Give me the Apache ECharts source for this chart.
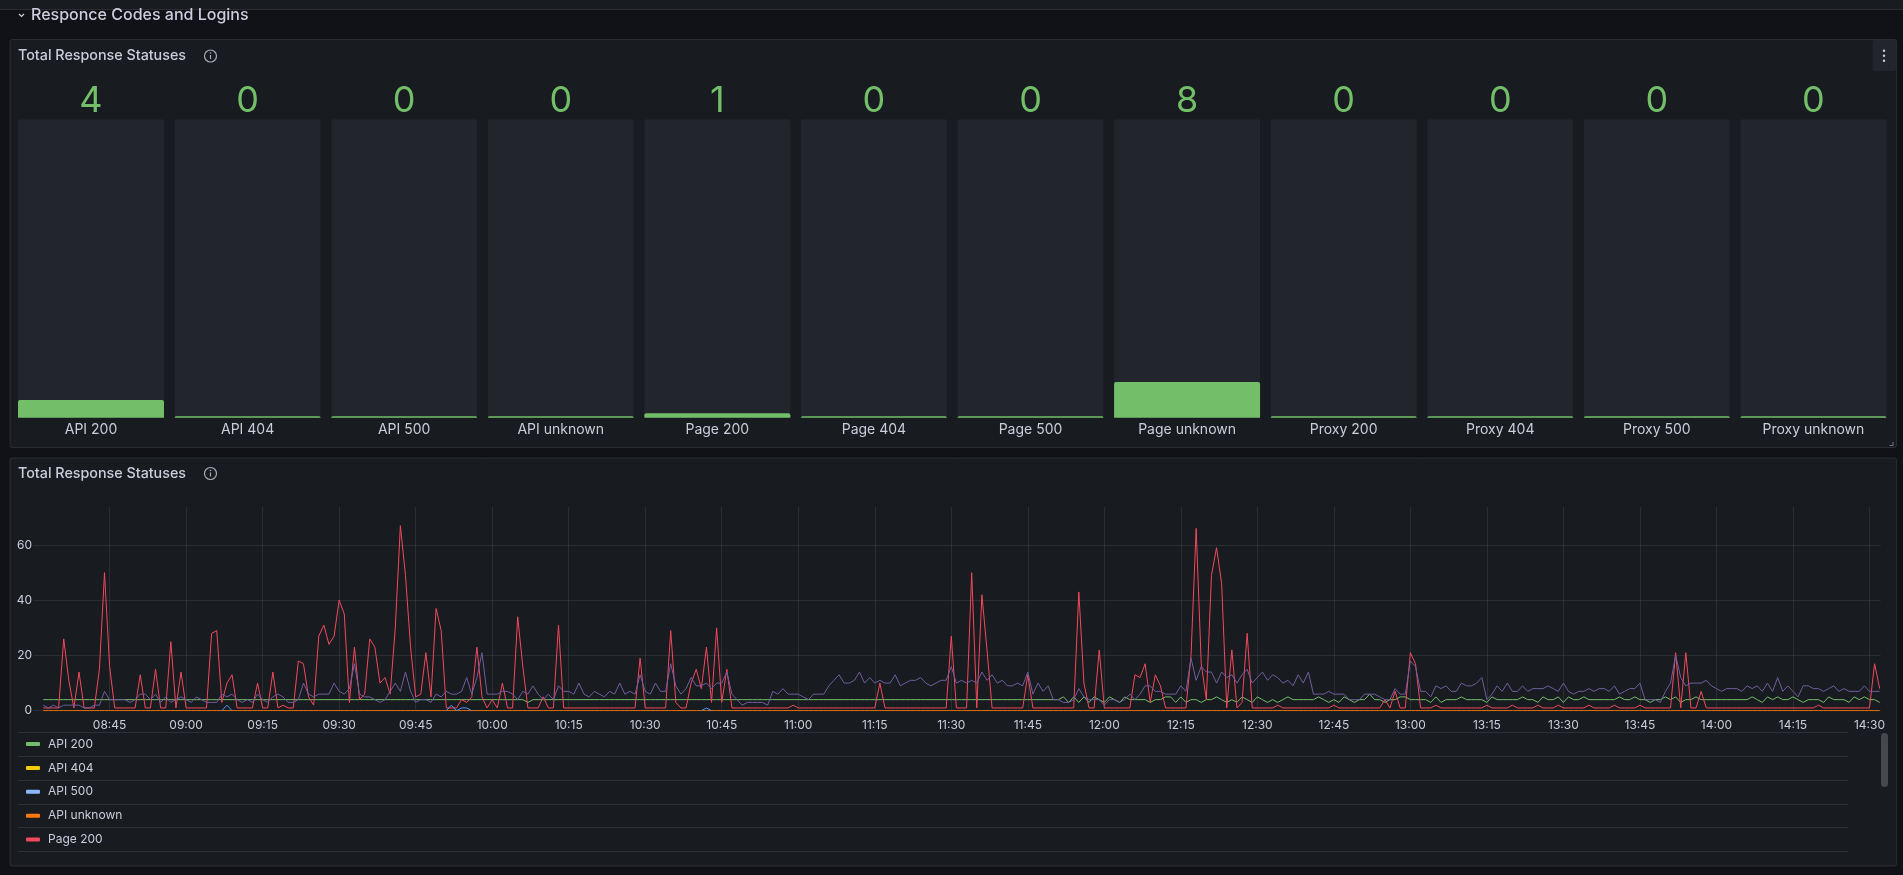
<!DOCTYPE html>
<html>
<head>
<meta charset="utf-8">
<title>Total Response Statuses</title>
<script src="https://cdn.jsdelivr.net/npm/echarts@6.0.0/dist/echarts.min.js"></script>
<style>
html, body { margin: 0; padding: 0; background: #111217; }
#container { width: 1903px; height: 875px; }
</style>
</head>
<body>
<div id="container"></div>
<script>
// stat panel
var statNames = ['API 200', 'API 404', 'API 500', 'API unknown', 'Page 200', 'Page 404',
                 'Page 500', 'Page unknown', 'Proxy 200', 'Proxy 404', 'Proxy 500', 'Proxy unknown'];
var statValues = [4, 0, 0, 0, 1, 0, 0, 8, 0, 0, 0, 0];

// time series panel, one sample per minute from 08:32 to 14:32
var startMinute = 8 * 60 + 32;
var seriesNames = statNames;
var seriesColors = ['#73BF69', '#F2CC0C', '#8AB8FF', '#FF780A', '#F2495C', '#5794F2',
                    '#B877D9', '#705DA0', '#508642', '#CCA300', '#447EBC', '#C15C17'];

var api200 = [
  4,4,4,4,4,4,4,4,4,4, 4,4,4,4,4,4,4,4,4,4, 4,4,4,4,4,4,4,4,4,4,
  4,4,4,4,4,4,4,4,4,4, 4,4,4,4,4,4,4,4,4,4, 4,4,4,4,4,4,4,4,4,4,
  4,4,4,4,4,4,4,4,4,4, 4,4,4,4,4,4,4,4,4,4, 4,4,4,4,4,4,4,4,4,4,
  4,4,4,4,4,3,4,4,4,4, 4,4,4,4,4,4,4,4,4,4, 4,4,4,4,4,4,4,4,4,4,
  4,4,4,4,4,4,4,4,4,4, 4,4,4,4,4,4,4,4,4,4, 4,4,4,4,4,4,4,4,4,4,
  4,4,4,4,4,4,4,4,4,4, 4,4,4,4,4,4,4,4,4,4, 4,4,4,4,4,4,4,4,4,4,
  4,4,4,4,4,4,4,4,4,4, 4,4,4,4,4,4,4,4,4,4, 5,3,5,3,5,3,5,4,3,5,
  4,3,5,4,4,4,4,3,4,4, 5,5,3,5,3,4,4,3,4,4, 5,4,3,4,3,5,4,3,5,4,
  3,4,3,4,5,4,4,4,4,4, 5,4,3,4,3,5,4,3,4,4, 6,4,4,3,4,4,5,5,4,4,
  4,4,3,5,3,4,4,4,5,4, 4,4,4,3,5,4,4,4,4,4, 5,4,4,3,5,4,4,5,3,5,
  4,4,5,4,4,4,4,4,4,5, 4,4,5,4,4,3,4,4,5,4, 5,3,4,4,5,4,4,4,4,4,
  4,4,4,4,4,5,4,3,5,4, 5,4,4,5,4,3,4,4,4,3, 5,4,4,4,3,5,4,5,4,4, 3
];
var apiUnknown = [
  0,0,0,0,0,0,0,0,0,0, 0,0,0,0,0,0,0,0,0,0, 0,0,0,0,0,0,0,0,0,0,
  0,0,0,0,0,0,0,0,0,0, 0,0,0,0,0,0,0,0,0,0, 0,0,0,0,0,0,0,0,0,0,
  0,0,0,0,0,0,0,0,0,0, 0,0,0,0,0,0,0,0,0,0, 0,0,0,0,0,0,0,0,0,0,
  0,0,0,0,0,0,0,0,0,0, 0,0,0,0,0,0,0,0,0,0, 0,0,0,0,0,0,0,0,0,0,
  0,0,0,0,0,0,0,0,0,0, 0,0,0,0,0,0,0,0,0,0, 0,0,0,0,0,0,0,0,0,0,
  0,0,0,0,0,0,0,0,0,0, 0,0,0,0,0,0,0,0,0,0, 0,0,0,0,0,0,0,0,0,0,
  0,0,0,0,0,0,0,0,0,0, 0,0,0,0,0,0,0,0,0,0, 0,0,0,0,0,0,0,0,0,0,
  0,0,0,0,0,0,0,0,0,0, 0,0,0,0,0,0,0,0,0,0, 0,0,0,0,0,0,0,0,0,0,
  0,0,0,0,0,0,0,0,0,0, 0,0,0,0,0,0,0,0,0,0, 0,0,0,0,0,0,0,0,0,0,
  0,0,0,0,0,0,0,0,0,0, 0,0,0,0,0,0,0,0,0,0, 0,0,0,0,0,0,0,0,0,0,
  0,0,0,0,0,0,0,0,0,0, 0,0,0,0,0,0,0,0,0,0, 0,0,0,0,0,0,0,0,0,0,
  0,0,0,0,0,0,0,0,0,0, 0,0,0,0,0,0,0,0,0,0, 0,0,0,0,0,0,0,0,0,0, 0
];
var page200 = [
  1,1,1,1,26,11,1,14,1,1, 1,15,50,16,1,1,1,1,1,13, 1,1,15,1,1,25,1,14,1,1,
  1,1,1,28,29,3,10,13,1,1, 1,1,10,1,1,14,1,2,1,1, 18,17,5,2,27,31,24,27,40,35,
  3,23,4,6,26,23,10,12,6,30, 67,49,23,5,6,21,5,37,29,1, 1,1,4,3,5,23,5,1,4,1,
  10,1,1,34,16,1,1,1,5,1, 1,31,1,1,1,1,1,1,1,1, 1,1,1,1,1,1,1,19,1,1,
  1,1,1,29,3,1,1,10,15,8, 23,3,30,3,15,1,1,1,1,1, 1,1,1,1,1,1,1,2,1,1,
  1,1,1,1,1,1,1,1,1,1, 1,1,1,1,10,1,1,1,1,1, 1,1,1,1,1,1,1,1,27,1,
  1,1,50,1,42,22,1,1,1,1, 1,1,1,13,1,1,1,1,1,1, 1,1,1,43,10,1,1,22,1,1,
  1,1,1,1,13,12,17,3,13,9, 1,1,1,1,1,20,66,17,4,49, 59,46,1,22,1,3,28,1,1,1,
  1,1,2,1,1,1,1,1,1,1, 1,1,1,2,1,1,1,1,1,1, 1,1,1,4,1,7,1,1,21,17,
  1,1,1,2,1,1,1,1,1,1, 1,1,1,2,1,1,1,1,2,1, 1,1,1,2,1,1,1,2,1,1,
  1,1,1,2,1,1,1,1,2,1, 1,1,1,2,1,1,1,1,1,1, 21,1,21,1,1,7,1,1,1,1,
  1,1,1,1,1,1,1,1,1,1, 1,1,1,1,1,1,1,1,2,1, 1,1,1,1,1,1,1,1,1,17, 8
];
var pageUnknown = [
  2,1,2,1,2,2,2,2,1,1, 2,2,7,4,4,4,4,3,4,6, 6,4,6,3,5,3,4,5,4,3,
  5,4,3,3,3,6,5,6,4,3, 4,3,6,4,3,5,6,5,3,3, 4,10,6,5,6,6,6,10,7,6,
  8,17,6,5,5,4,3,4,7,10, 7,14,7,3,4,4,3,6,5,7, 6,6,7,12,6,12,21,6,6,6,
  7,7,6,4,7,6,9,6,4,6, 4,9,7,7,6,10,6,5,7,6, 5,7,6,10,6,7,6,13,7,6,
  10,7,7,17,9,6,8,12,9,9, 10,8,10,10,14,6,4,2,3,3, 3,3,2,7,6,8,6,6,6,5,
  4,6,6,6,9,11,13,10,10,11, 14,10,12,10,11,10,10,13,9,10, 11,11,12,10,9,10,11,11,16,10,
  11,10,11,10,14,11,13,10,11,9, 9,10,9,14,6,10,7,9,4,4, 3,3,4,8,5,4,4,4,2,4,
  4,3,4,6,4,6,9,9,7,7, 6,6,6,9,7,19,11,16,14,14, 10,14,12,13,10,13,15,10,12,14,
  11,13,12,10,11,9,13,10,14,6, 6,6,7,6,6,6,4,4,4,6, 6,6,5,4,4,8,6,6,18,16,
  7,7,5,9,8,9,7,7,10,9, 9,10,12,4,6,9,7,10,7,7, 9,7,8,8,8,9,8,7,10,7,
  6,7,7,8,7,8,8,7,9,6, 7,8,8,10,4,4,4,3,7,10, 20,12,9,10,10,10,11,9,8,7,
  8,8,8,7,9,8,9,7,10,7, 12,7,9,7,5,9,9,8,8,7, 8,9,7,8,7,7,7,9,7,7, 7
];
// short blips only, [minute offset, value], null breaks the line
var page404 = [[35, 0], [36, 2], [37, 0], null,
               [79, 0], [80, 2], [81, 0], [82, 1], [83, 1], [84, 0], null,
               [129, 0], [130, 1], [131, 0]];

var textColor = '#ccccdc';
var gridColor = 'rgba(204,204,220,0.1)';
var borderColor = 'rgba(204,204,220,0.12)';
var panelBg = '#181b1f';

function pad(n) { return (n < 10 ? '0' : '') + n; }
function hhmm(v) { return pad(Math.floor(v / 60)) + ':' + pad(Math.round(v % 60)); }
function toPoints(values) {
    return values.map(function (v, i) { return [startMinute + i, v]; });
}

var seriesData = {
    'API 200': toPoints(api200),
    'API unknown': toPoints(apiUnknown),
    'Page 200': toPoints(page200),
    'Page 404': page404.map(function (p) { return p ? [startMinute + p[0], p[1]] : [null, null]; }),
    'Page unknown': toPoints(pageUnknown)
};

var myChart = echarts.init(document.getElementById('container'));

var lineSeries = seriesNames.map(function (name, i) {
    return {
        name: name,
        type: 'line',
        xAxisIndex: 2,
        yAxisIndex: 1,
        data: seriesData[name] || [],
        showSymbol: false,
        silent: true,
        color: seriesColors[i],
        lineStyle: { width: 1, color: seriesColors[i] },
        emphasis: { disabled: true }
    };
});

function legendLine(y) {
    return { type: 'line', shape: { x1: 18, y1: y, x2: 1848, y2: y },
             style: { stroke: borderColor, lineWidth: 1 } };
}

var option = {
    backgroundColor: '#111217',
    animation: false,
    textStyle: { fontFamily: 'Inter, "Noto Sans", sans-serif' },
    graphic: [
        { type: 'rect', z: -10, shape: { x: -2, y: -2, width: 1907, height: 11.5 },
          style: { fill: panelBg, stroke: borderColor, lineWidth: 1 } },
        { type: 'text', x: 31, y: 15.5,
          style: { text: 'Responce Codes and Logins', fill: textColor,
                   font: '500 16px Inter', verticalAlign: 'middle' } },
        { type: 'polyline', shape: { points: [[19, 14], [21.5, 16.5], [24, 14]] },
          style: { stroke: textColor, lineWidth: 1.2, fill: null } },

        { type: 'rect', z: -10, shape: { x: 10, y: 39.5, width: 1886.5, height: 408, r: 2 },
          style: { fill: panelBg, stroke: borderColor, lineWidth: 1 } },
        { type: 'text', x: 18, y: 56,
          style: { text: 'Total Response Statuses', fill: textColor,
                   font: '500 14.3px Inter', verticalAlign: 'middle' } },
        { type: 'circle', shape: { cx: 210.5, cy: 56, r: 6 },
          style: { stroke: 'rgba(204,204,220,0.8)', lineWidth: 1.2, fill: null } },
        { type: 'line', shape: { x1: 210.5, y1: 55, x2: 210.5, y2: 59 },
          style: { stroke: 'rgba(204,204,220,0.8)', lineWidth: 1.2 } },
        { type: 'circle', shape: { cx: 210.5, cy: 53, r: 0.8 },
          style: { fill: 'rgba(204,204,220,0.8)' } },
        { type: 'rect', shape: { x: 1872.5, y: 40, width: 23.5, height: 31, r: 2 },
          style: { fill: '#22252b' } },
        { type: 'circle', shape: { cx: 1884, cy: 50.7, r: 1.2 }, style: { fill: textColor } },
        { type: 'circle', shape: { cx: 1884, cy: 55.7, r: 1.2 }, style: { fill: textColor } },
        { type: 'circle', shape: { cx: 1884, cy: 60.7, r: 1.2 }, style: { fill: textColor } },
        { type: 'polyline', shape: { points: [[1893, 442], [1893, 445.5], [1889.5, 445.5]] },
          style: { stroke: 'rgba(204,204,220,0.5)', lineWidth: 1, fill: null } },

        { type: 'rect', z: -10, shape: { x: 10, y: 458, width: 1886.5, height: 408, r: 2 },
          style: { fill: panelBg, stroke: borderColor, lineWidth: 1 } },
        { type: 'text', x: 18, y: 473.5,
          style: { text: 'Total Response Statuses', fill: textColor,
                   font: '500 14.3px Inter', verticalAlign: 'middle' } },
        { type: 'circle', shape: { cx: 210.5, cy: 473.5, r: 6 },
          style: { stroke: 'rgba(204,204,220,0.8)', lineWidth: 1.2, fill: null } },
        { type: 'line', shape: { x1: 210.5, y1: 472.5, x2: 210.5, y2: 476.5 },
          style: { stroke: 'rgba(204,204,220,0.8)', lineWidth: 1.2 } },
        { type: 'circle', shape: { cx: 210.5, cy: 470.5, r: 0.8 },
          style: { fill: 'rgba(204,204,220,0.8)' } },

        legendLine(732.5), legendLine(756.5), legendLine(780.5),
        legendLine(804.5), legendLine(827.5), legendLine(851.5),
        { type: 'rect', shape: { x: 1881, y: 733, width: 7, height: 54, r: 3.5 },
          style: { fill: '#45484e' } }
    ],
    grid: [
        { left: 12.7, right: 11.3, top: 119.3, bottom: 457.3 },
        { left: 33.1, right: 22.3, top: 507, bottom: 164.3 }
    ],
    xAxis: [
        {
            gridIndex: 0, type: 'category', data: statNames,
            axisLine: { show: false }, axisTick: { show: false },
            axisLabel: { color: textColor, fontSize: 14, margin: 5, interval: 0 }
        },
        {
            gridIndex: 0, type: 'category', position: 'top',
            data: statValues.map(String),
            axisLine: { show: false }, axisTick: { show: false },
            axisLabel: { color: '#73BF69', fontSize: 36, margin: 0, interval: 0 }
        },
        {
            gridIndex: 1, type: 'value', min: 510, max: 872.2, interval: 15,
            axisLine: { show: false }, axisTick: { show: false },
            splitLine: { show: true, showMinLine: false, showMaxLine: false,
                         lineStyle: { color: gridColor, width: 1 } },
            axisLabel: { color: textColor, fontSize: 12, margin: 9,
                         showMinLabel: false, showMaxLabel: false, formatter: hhmm }
        }
    ],
    yAxis: [
        { gridIndex: 0, type: 'value', min: 0, max: 67, show: false },
        {
            gridIndex: 1, type: 'value', min: 0, max: 73.75, interval: 20,
            axisLine: { show: false }, axisTick: { show: false },
            splitLine: { show: true, showMaxLine: false, lineStyle: { color: gridColor, width: 1 } },
            axisLabel: { color: textColor, fontSize: 12, margin: 1, showMaxLabel: false }
        }
    ],
    legend: {
        data: seriesNames.slice(0, 5),
        orient: 'vertical',
        left: 26,
        top: 737,
        padding: 0,
        icon: 'roundRect',
        itemWidth: 14,
        itemHeight: 4,
        itemGap: 9.9,
        selectedMode: false,
        textStyle: { color: textColor, fontSize: 12, lineHeight: 14, padding: [0, 0, 0, 3] }
    },
    series: [{
        type: 'bar',
        xAxisIndex: 0,
        yAxisIndex: 0,
        data: statValues,
        barWidth: 146,
        barMinHeight: 1.5,
        silent: true,
        showBackground: true,
        backgroundStyle: { color: '#22252b', borderRadius: 2 },
        itemStyle: { color: '#73BF69', borderRadius: [2, 2, 0, 0] }
    }].concat(lineSeries)
};

if (option && typeof option === 'object') {
    myChart.setOption(option, true);
    window.onresize = function () {
        myChart.resize();
    };
}
</script>
</body>
</html>
